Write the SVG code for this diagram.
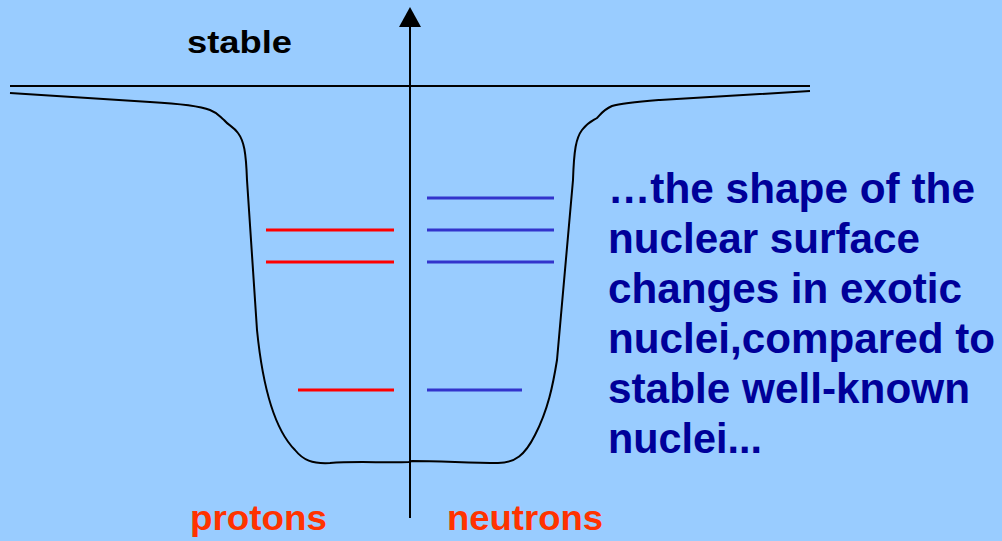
<svg xmlns="http://www.w3.org/2000/svg" width="1002" height="541" viewBox="0 0 1002 541">
<style>
.ax{stroke:#000;stroke-width:2;fill:none}
.well{stroke:#000;stroke-width:2;fill:none;stroke-linejoin:round}
.p{stroke:#FF0000;stroke-width:3}
.n{stroke:#3333CC;stroke-width:3}
.t{font-family:"Liberation Sans",Arial,sans-serif;font-weight:bold}
.desc{fill:#000099;font-size:43px}
.lab{fill:#FF3300;font-size:35px}
</style>
<rect width="1002" height="541" fill="#99CCFF"/>
<g id="connectors">
<line id="zero-line" class="ax" x1="10" y1="86" x2="810" y2="86"/>
<line id="axis" class="ax" x1="410" y1="518" x2="410" y2="26"/>
<path d="M399,27 L410,7 L421,27 Z" fill="#000"/>
</g>
<g id="well">
<path class="well" d="M10,93 L150,102 C185,104 200,106 210,110 C218,113 220,117 224,120 C229,126 234,127 238,133 C244,141 246,152 247,180 L257,330 C263,390 275,430 295,450 C303,460 312,464 330,463 C355,461 385,463 409,462 L412,461 C440,461 470,463 498,463 C515,463 525,455 535,435 C548,410 553,385 557,360 L573,180 C574,150 576,138 582,130 C588,122 592,121 597,118 C601,114 603,110 612,106 C622,103 635,102 660,100 L810,91"/>
</g>
<g id="proton-levels">
<line class="p" x1="266" y1="230" x2="394" y2="230"/>
<line class="p" x1="266" y1="262" x2="394" y2="262"/>
<line class="p" x1="298" y1="390" x2="394" y2="390"/>
</g>
<g id="neutron-levels">
<line class="n" x1="427" y1="198" x2="554" y2="198"/>
<line class="n" x1="427" y1="230" x2="554" y2="230"/>
<line class="n" x1="427" y1="262" x2="554" y2="262"/>
<line class="n" x1="427" y1="390" x2="522" y2="390"/>
</g>
<g id="label-stable">
<text class="t" x="187" y="53" font-size="32" fill="#000" textLength="105" lengthAdjust="spacingAndGlyphs">stable</text>
</g>
<g id="label-protons">
<text class="t lab" x="190" y="530" textLength="137" lengthAdjust="spacingAndGlyphs">protons</text>
</g>
<g id="label-neutrons">
<text class="t lab" x="447" y="530" textLength="156" lengthAdjust="spacingAndGlyphs">neutrons</text>
</g>
<g id="description">
<text class="t desc" x="608" y="203" textLength="367" lengthAdjust="spacingAndGlyphs">…the shape of the</text>
<text class="t desc" x="608" y="253" textLength="312" lengthAdjust="spacingAndGlyphs">nuclear surface</text>
<text class="t desc" x="608" y="303" textLength="354" lengthAdjust="spacingAndGlyphs">changes in exotic</text>
<text class="t desc" x="608" y="353" textLength="387" lengthAdjust="spacingAndGlyphs">nuclei,compared to</text>
<text class="t desc" x="608" y="403" textLength="362" lengthAdjust="spacingAndGlyphs">stable well-known</text>
<text class="t desc" x="608" y="453" textLength="154" lengthAdjust="spacingAndGlyphs">nuclei...</text>
</g>
</svg>
